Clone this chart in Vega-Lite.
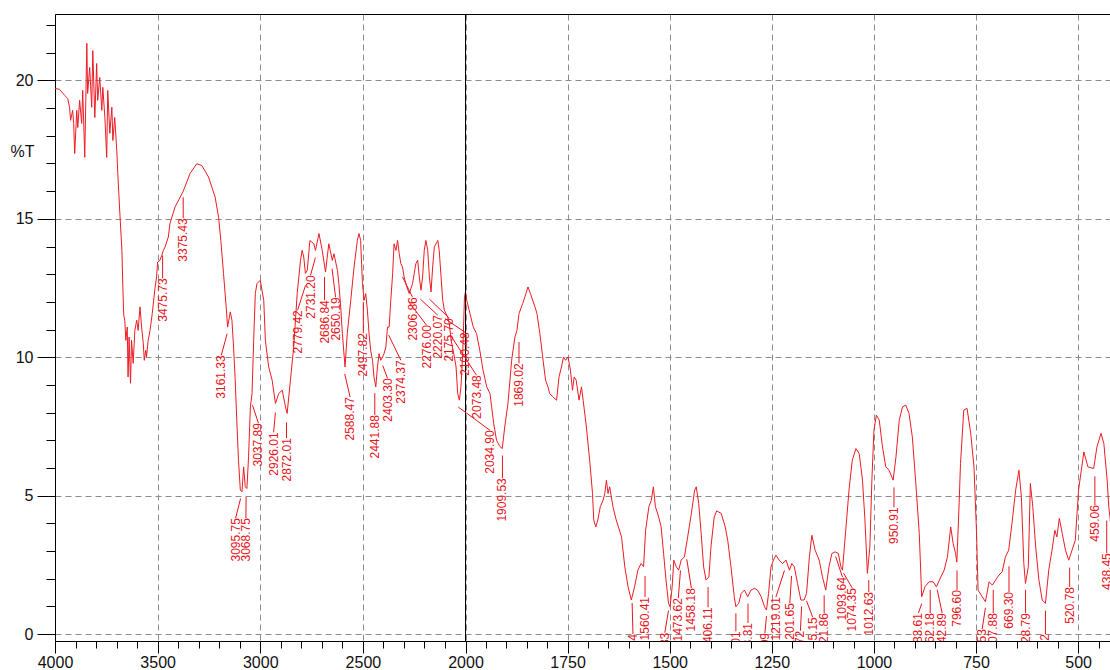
{
  "$schema": "https://vega.github.io/schema/vega-lite/v6.json",
  "width": 1055,
  "height": 627,
  "autosize": "none",
  "padding": {"left": 55, "top": 14, "right": 0, "bottom": 29},
  "background": "white",
  "config": {"view": {"stroke": null}, "font": "Liberation Sans"},
  "datasets": {
    "spec": [
      {"wn":4000,"t":19.71},{"wn":3978,"t":19.68},{"wn":3953,"t":19.46},{"wn":3938,"t":19.35},{"wn":3929,"t":19.03},{"wn":3924,"t":18.56},{"wn":3914,"t":18.92},{"wn":3909,"t":18.45},{"wn":3904,"t":17.36},{"wn":3894,"t":18.92},{"wn":3889,"t":18.30},{"wn":3880,"t":19.28},{"wn":3870,"t":18.45},{"wn":3865,"t":19.64},{"wn":3855,"t":17.22},{"wn":3845,"t":21.34},{"wn":3841,"t":19.53},{"wn":3831,"t":20.47},{"wn":3821,"t":19.03},{"wn":3816,"t":21.08},{"wn":3806,"t":18.66},{"wn":3797,"t":20.61},{"wn":3792,"t":19.28},{"wn":3782,"t":20.11},{"wn":3772,"t":18.92},{"wn":3767,"t":19.75},{"wn":3757,"t":18.66},{"wn":3748,"t":17.22},{"wn":3743,"t":19.64},{"wn":3733,"t":18.09},{"wn":3723,"t":19.03},{"wn":3718,"t":17.83},{"wn":3709,"t":18.66},{"wn":3699,"t":17.47},{"wn":3694,"t":16.64},{"wn":3684,"t":15.20},{"wn":3674,"t":13.86},{"wn":3669,"t":12.42},{"wn":3665,"t":11.52},{"wn":3660,"t":11.34},{"wn":3655,"t":10.61},{"wn":3648,"t":11.09},{"wn":3644,"t":9.29},{"wn":3639,"t":10.73},{"wn":3632,"t":9.06},{"wn":3627,"t":10.61},{"wn":3619,"t":9.78},{"wn":3611,"t":10.97},{"wn":3602,"t":11.34},{"wn":3595,"t":10.97},{"wn":3586,"t":11.82},{"wn":3578,"t":11.09},{"wn":3570,"t":10.51},{"wn":3565,"t":9.89},{"wn":3558,"t":10.25},{"wn":3554,"t":10.01},{"wn":3546,"t":10.61},{"wn":3537,"t":10.97},{"wn":3526,"t":11.59},{"wn":3513,"t":12.49},{"wn":3505,"t":12.90},{"wn":3500,"t":13.44},{"wn":3489,"t":13.50},{"wn":3480,"t":13.68},{"wn":3472,"t":13.86},{"wn":3464,"t":13.98},{"wn":3448,"t":14.34},{"wn":3440,"t":14.83},{"wn":3415,"t":15.43},{"wn":3375,"t":16.00},{"wn":3342,"t":16.64},{"wn":3309,"t":16.99},{"wn":3285,"t":16.93},{"wn":3252,"t":16.51},{"wn":3220,"t":15.79},{"wn":3203,"t":15.06},{"wn":3192,"t":14.22},{"wn":3179,"t":13.03},{"wn":3166,"t":11.82},{"wn":3159,"t":11.09},{"wn":3146,"t":11.64},{"wn":3138,"t":11.34},{"wn":3130,"t":10.37},{"wn":3122,"t":9.17},{"wn":3113,"t":7.48},{"wn":3106,"t":6.28},{"wn":3097,"t":5.20},{"wn":3089,"t":5.14},{"wn":3081,"t":6.04},{"wn":3073,"t":5.32},{"wn":3065,"t":5.26},{"wn":3057,"t":6.40},{"wn":3048,"t":8.21},{"wn":3040,"t":8.69},{"wn":3032,"t":10.61},{"wn":3024,"t":12.30},{"wn":3016,"t":12.66},{"wn":3000,"t":12.78},{"wn":2983,"t":12.06},{"wn":2975,"t":10.61},{"wn":2959,"t":9.65},{"wn":2942,"t":9.17},{"wn":2926,"t":8.33},{"wn":2910,"t":8.69},{"wn":2893,"t":8.81},{"wn":2877,"t":8.21},{"wn":2869,"t":7.97},{"wn":2853,"t":9.17},{"wn":2837,"t":10.37},{"wn":2820,"t":12.30},{"wn":2804,"t":13.50},{"wn":2796,"t":13.86},{"wn":2788,"t":13.62},{"wn":2780,"t":13.03},{"wn":2771,"t":13.14},{"wn":2758,"t":14.22},{"wn":2739,"t":14.10},{"wn":2731,"t":13.86},{"wn":2714,"t":14.47},{"wn":2698,"t":13.86},{"wn":2682,"t":13.08},{"wn":2666,"t":14.10},{"wn":2649,"t":13.50},{"wn":2641,"t":13.74},{"wn":2624,"t":13.14},{"wn":2617,"t":12.66},{"wn":2608,"t":11.82},{"wn":2600,"t":10.86},{"wn":2587,"t":9.65},{"wn":2576,"t":10.86},{"wn":2559,"t":12.06},{"wn":2543,"t":13.26},{"wn":2527,"t":14.22},{"wn":2519,"t":14.47},{"wn":2511,"t":14.22},{"wn":2502,"t":12.66},{"wn":2494,"t":12.06},{"wn":2486,"t":12.30},{"wn":2478,"t":11.70},{"wn":2470,"t":10.86},{"wn":2462,"t":10.25},{"wn":2453,"t":9.89},{"wn":2446,"t":9.29},{"wn":2437,"t":8.93},{"wn":2429,"t":9.65},{"wn":2421,"t":10.13},{"wn":2413,"t":9.89},{"wn":2404,"t":10.01},{"wn":2397,"t":10.13},{"wn":2388,"t":10.37},{"wn":2380,"t":11.09},{"wn":2372,"t":11.09},{"wn":2364,"t":12.06},{"wn":2355,"t":13.02},{"wn":2348,"t":14.10},{"wn":2339,"t":13.86},{"wn":2331,"t":14.22},{"wn":2323,"t":13.74},{"wn":2315,"t":13.38},{"wn":2307,"t":13.26},{"wn":2299,"t":12.90},{"wn":2286,"t":12.54},{"wn":2274,"t":12.30},{"wn":2258,"t":12.66},{"wn":2242,"t":13.38},{"wn":2233,"t":13.50},{"wn":2225,"t":12.90},{"wn":2217,"t":12.42},{"wn":2209,"t":12.90},{"wn":2201,"t":13.86},{"wn":2193,"t":14.22},{"wn":2184,"t":13.86},{"wn":2176,"t":12.90},{"wn":2168,"t":12.36},{"wn":2160,"t":13.26},{"wn":2152,"t":13.98},{"wn":2135,"t":14.22},{"wn":2128,"t":13.86},{"wn":2119,"t":12.90},{"wn":2111,"t":12.06},{"wn":2103,"t":11.70},{"wn":2087,"t":11.45},{"wn":2079,"t":11.22},{"wn":2070,"t":10.61},{"wn":2054,"t":10.01},{"wn":2046,"t":9.65},{"wn":2038,"t":8.69},{"wn":2030,"t":8.45},{"wn":2022,"t":8.93},{"wn":2013,"t":10.25},{"wn":2005,"t":12.18},{"wn":2000,"t":12.36},{"wn":1997,"t":12.06},{"wn":1989,"t":11.58},{"wn":1981,"t":11.09},{"wn":1973,"t":10.86},{"wn":1965,"t":10.25},{"wn":1957,"t":9.53},{"wn":1948,"t":8.93},{"wn":1940,"t":8.69},{"wn":1936,"t":8.21},{"wn":1931,"t":7.61},{"wn":1924,"t":7.00},{"wn":1916,"t":6.78},{"wn":1910,"t":6.70},{"wn":1904,"t":7.48},{"wn":1896,"t":8.33},{"wn":1887,"t":9.89},{"wn":1879,"t":10.73},{"wn":1874,"t":10.97},{"wn":1869,"t":11.58},{"wn":1860,"t":11.94},{"wn":1852,"t":12.30},{"wn":1847,"t":12.54},{"wn":1841,"t":12.30},{"wn":1830,"t":11.82},{"wn":1825,"t":11.58},{"wn":1818,"t":10.86},{"wn":1810,"t":9.89},{"wn":1804,"t":9.17},{"wn":1798,"t":8.93},{"wn":1794,"t":8.69},{"wn":1786,"t":8.57},{"wn":1777,"t":8.45},{"wn":1771,"t":9.29},{"wn":1765,"t":9.65},{"wn":1760,"t":10.01},{"wn":1755,"t":9.89},{"wn":1749,"t":10.01},{"wn":1743,"t":9.53},{"wn":1738,"t":8.81},{"wn":1734,"t":9.29},{"wn":1729,"t":9.17},{"wn":1722,"t":8.45},{"wn":1716,"t":8.93},{"wn":1712,"t":8.45},{"wn":1704,"t":7.48},{"wn":1696,"t":6.28},{"wn":1689,"t":5.08},{"wn":1686,"t":4.12},{"wn":1681,"t":3.87},{"wn":1676,"t":4.12},{"wn":1670,"t":4.60},{"wn":1663,"t":4.84},{"wn":1659,"t":5.08},{"wn":1655,"t":5.56},{"wn":1651,"t":5.08},{"wn":1647,"t":5.32},{"wn":1639,"t":4.60},{"wn":1631,"t":4.12},{"wn":1618,"t":3.51},{"wn":1610,"t":2.43},{"wn":1602,"t":1.71},{"wn":1594,"t":1.23},{"wn":1586,"t":1.71},{"wn":1578,"t":2.31},{"wn":1570,"t":2.55},{"wn":1564,"t":2.43},{"wn":1559,"t":3.75},{"wn":1551,"t":4.60},{"wn":1545,"t":4.84},{"wn":1540,"t":5.32},{"wn":1535,"t":4.60},{"wn":1527,"t":4.23},{"wn":1521,"t":3.87},{"wn":1515,"t":2.91},{"wn":1509,"t":1.95},{"wn":1503,"t":1.11},{"wn":1499,"t":0.99},{"wn":1494,"t":1.71},{"wn":1490,"t":2.67},{"wn":1484,"t":2.43},{"wn":1478,"t":2.31},{"wn":1472,"t":2.67},{"wn":1464,"t":2.79},{"wn":1456,"t":3.51},{"wn":1447,"t":4.36},{"wn":1439,"t":5.20},{"wn":1435,"t":5.32},{"wn":1429,"t":4.72},{"wn":1423,"t":3.64},{"wn":1417,"t":2.43},{"wn":1411,"t":1.95},{"wn":1404,"t":2.07},{"wn":1399,"t":3.15},{"wn":1391,"t":4.23},{"wn":1385,"t":4.45},{"wn":1374,"t":4.36},{"wn":1364,"t":3.87},{"wn":1358,"t":3.39},{"wn":1350,"t":2.43},{"wn":1342,"t":1.35},{"wn":1338,"t":0.99},{"wn":1331,"t":1.11},{"wn":1325,"t":1.47},{"wn":1317,"t":1.59},{"wn":1309,"t":1.35},{"wn":1301,"t":1.59},{"wn":1293,"t":1.65},{"wn":1285,"t":1.59},{"wn":1276,"t":1.35},{"wn":1268,"t":0.99},{"wn":1263,"t":0.87},{"wn":1258,"t":1.47},{"wn":1252,"t":2.43},{"wn":1246,"t":2.67},{"wn":1240,"t":2.85},{"wn":1232,"t":2.67},{"wn":1224,"t":2.55},{"wn":1215,"t":2.67},{"wn":1207,"t":2.31},{"wn":1201,"t":2.55},{"wn":1195,"t":2.43},{"wn":1187,"t":1.83},{"wn":1179,"t":1.23},{"wn":1171,"t":1.23},{"wn":1165,"t":1.47},{"wn":1158,"t":2.79},{"wn":1152,"t":3.57},{"wn":1144,"t":3.03},{"wn":1134,"t":2.67},{"wn":1126,"t":2.07},{"wn":1118,"t":1.59},{"wn":1110,"t":2.43},{"wn":1103,"t":2.91},{"wn":1095,"t":2.97},{"wn":1087,"t":2.91},{"wn":1081,"t":2.43},{"wn":1077,"t":2.31},{"wn":1069,"t":3.75},{"wn":1061,"t":5.20},{"wn":1053,"t":6.28},{"wn":1044,"t":6.70},{"wn":1036,"t":6.52},{"wn":1028,"t":5.56},{"wn":1022,"t":4.12},{"wn":1016,"t":2.19},{"wn":1010,"t":3.15},{"wn":1005,"t":5.56},{"wn":1000,"t":7.36},{"wn":994,"t":7.91},{"wn":987,"t":7.73},{"wn":979,"t":6.76},{"wn":971,"t":6.04},{"wn":963,"t":5.92},{"wn":953,"t":5.56},{"wn":946,"t":6.40},{"wn":938,"t":7.73},{"wn":930,"t":8.21},{"wn":922,"t":8.27},{"wn":914,"t":7.97},{"wn":906,"t":7.12},{"wn":898,"t":5.56},{"wn":889,"t":3.64},{"wn":883,"t":1.35},{"wn":875,"t":1.71},{"wn":865,"t":1.89},{"wn":855,"t":1.89},{"wn":847,"t":1.71},{"wn":836,"t":2.07},{"wn":828,"t":2.31},{"wn":820,"t":2.79},{"wn":812,"t":3.87},{"wn":806,"t":3.27},{"wn":800,"t":2.90},{"wn":797,"t":2.60},{"wn":792,"t":4.48},{"wn":788,"t":6.16},{"wn":780,"t":8.09},{"wn":772,"t":8.15},{"wn":763,"t":7.25},{"wn":755,"t":6.04},{"wn":749,"t":3.75},{"wn":745,"t":1.59},{"wn":735,"t":1.35},{"wn":727,"t":1.17},{"wn":718,"t":1.89},{"wn":710,"t":1.77},{"wn":702,"t":1.95},{"wn":694,"t":2.13},{"wn":686,"t":2.25},{"wn":678,"t":2.79},{"wn":670,"t":3.03},{"wn":662,"t":4.00},{"wn":653,"t":5.20},{"wn":645,"t":5.92},{"wn":639,"t":4.96},{"wn":633,"t":2.55},{"wn":629,"t":1.83},{"wn":622,"t":2.43},{"wn":617,"t":5.44},{"wn":611,"t":4.60},{"wn":604,"t":3.15},{"wn":596,"t":1.95},{"wn":588,"t":1.23},{"wn":580,"t":1.11},{"wn":572,"t":2.31},{"wn":564,"t":3.03},{"wn":557,"t":3.75},{"wn":552,"t":3.51},{"wn":546,"t":4.18},{"wn":539,"t":3.64},{"wn":531,"t":3.03},{"wn":523,"t":2.67},{"wn":515,"t":3.03},{"wn":507,"t":3.39},{"wn":499,"t":5.20},{"wn":486,"t":6.58},{"wn":476,"t":6.04},{"wn":462,"t":5.98},{"wn":454,"t":6.76},{"wn":444,"t":7.25},{"wn":437,"t":6.88},{"wn":429,"t":5.56},{"wn":425,"t":4.60},{"wn":419,"t":3.80}
    ],
    "peaks": [
      {"label":"3475.73","wn":3475.73,"t1":13.68,"lx":3475.73,"ly":12.85},
      {"label":"3375.43","wn":3375.43,"t1":15.78,"lx":3375.43,"ly":15.02},
      {"label":"3161.33","wn":3161.33,"t1":10.85,"lx":3190,"ly":10.07},
      {"label":"3095.75","wn":3095.75,"t1":4.9,"lx":3120,"ly":4.19},
      {"label":"3068.75","wn":3068.75,"t1":4.95,"lx":3070,"ly":4.19},
      {"label":"3037.89","wn":3037.89,"t1":8.27,"lx":3009,"ly":7.62},
      {"label":"2926.01","wn":2926.01,"t1":8.0,"lx":2935,"ly":7.29},
      {"label":"2872.01","wn":2872.01,"t1":7.65,"lx":2872.01,"ly":7.08},
      {"label":"2779.42","wn":2779.42,"t1":12.6,"lx":2818,"ly":11.7},
      {"label":"2731.20","wn":2731.2,"t1":13.6,"lx":2755,"ly":12.96},
      {"label":"2686.84","wn":2686.84,"t1":12.9,"lx":2686.84,"ly":12.06},
      {"label":"2650.19","wn":2650.19,"t1":13.2,"lx":2633,"ly":12.17},
      {"label":"2588.47","wn":2588.47,"t1":9.4,"lx":2562,"ly":8.56},
      {"label":"2497.82","wn":2497.82,"t1":12.0,"lx":2497.82,"ly":10.87},
      {"label":"2441.88","wn":2441.88,"t1":8.7,"lx":2441.88,"ly":7.91},
      {"label":"2403.30","wn":2403.3,"t1":9.7,"lx":2380,"ly":9.24},
      {"label":"2374.37","wn":2374.37,"t1":10.8,"lx":2315,"ly":9.89},
      {"label":"2306.86","wn":2306.86,"t1":12.9,"lx":2258,"ly":12.17},
      {"label":"2276.00","wn":2276.0,"t1":12.0,"lx":2190,"ly":11.16},
      {"label":"2220.07","wn":2220.07,"t1":12.1,"lx":2135,"ly":11.52},
      {"label":"2175.70","wn":2175.7,"t1":12.1,"lx":2079,"ly":11.41},
      {"label":"2100.48","wn":2100.48,"t1":11.4,"lx":2002,"ly":10.9},
      {"label":"2073.48","wn":2073.48,"t1":10.8,"lx":1973,"ly":9.35},
      {"label":"2034.90","wn":2034.9,"t1":8.2,"lx":1940,"ly":7.36},
      {"label":"1909.53","wn":1909.53,"t1":6.45,"lx":1909.53,"ly":5.63},
      {"label":"1869.02","wn":1869.02,"t1":10.55,"lx":1869.02,"ly":9.78},
      {"label":"1592.34","wn":1592,"t1":1.12,"lx":1590,"ly":0.0},
      {"label":"1560.41","wn":1560.41,"t1":2.1,"lx":1560.41,"ly":1.34},
      {"label":"1502.83","wn":1503,"t1":0.85,"lx":1512,"ly":0.05},
      {"label":"1473.62","wn":1473.62,"t1":2.3,"lx":1479,"ly":1.3},
      {"label":"1458.18","wn":1458.18,"t1":2.7,"lx":1447,"ly":1.66},
      {"label":"1406.11","wn":1406.11,"t1":1.7,"lx":1406.11,"ly":0.97},
      {"label":"1338.01","wn":1338,"t1":0.75,"lx":1338,"ly":0.1},
      {"label":"1308.31","wn":1308.31,"t1":1.1,"lx":1308.31,"ly":0.4},
      {"label":"1263.09","wn":1263,"t1":0.65,"lx":1267,"ly":0.04},
      {"label":"1219.01","wn":1219.01,"t1":2.3,"lx":1240,"ly":1.34},
      {"label":"1201.65","wn":1201.65,"t1":2.1,"lx":1206,"ly":1.12},
      {"label":"1176.72","wn":1177,"t1":1.0,"lx":1180,"ly":0.12},
      {"label":"1165.15","wn":1165,"t1":1.2,"lx":1150,"ly":0.61},
      {"label":"1121.86","wn":1121.86,"t1":1.4,"lx":1121.86,"ly":0.76},
      {"label":"1093.64","wn":1093.64,"t1":2.8,"lx":1077,"ly":2.06},
      {"label":"1074.35","wn":1074.35,"t1":2.2,"lx":1053,"ly":1.66},
      {"label":"1012.63","wn":1012.63,"t1":1.95,"lx":1012.63,"ly":1.52},
      {"label":"950.91","wn":950.91,"t1":5.3,"lx":950.91,"ly":4.58},
      {"label":"883.61","wn":883,"t1":1.1,"lx":891,"ly":0.76},
      {"label":"862.18","wn":862.18,"t1":1.6,"lx":862.18,"ly":0.76},
      {"label":"842.89","wn":845,"t1":1.6,"lx":833,"ly":0.76},
      {"label":"796.60","wn":796.6,"t1":2.3,"lx":796.6,"ly":1.59},
      {"label":"727.53","wn":727,"t1":0.95,"lx":735,"ly":0.18},
      {"label":"707.88","wn":707.88,"t1":1.6,"lx":707.88,"ly":0.76},
      {"label":"669.30","wn":669.3,"t1":2.45,"lx":669.3,"ly":1.52},
      {"label":"628.79","wn":628.79,"t1":1.6,"lx":628.79,"ly":0.76},
      {"label":"580.72","wn":580,"t1":0.85,"lx":580,"ly":0.0},
      {"label":"520.78","wn":520.78,"t1":2.4,"lx":520.78,"ly":1.7},
      {"label":"459.06","wn":459.06,"t1":5.7,"lx":459.06,"ly":4.66},
      {"label":"438.45","wn":430,"t1":4.1,"lx":430,"ly":2.92}
    ],
    "divider": [{"wn": 2000}]
  },
  "layer": [
    {
      "data": {"name": "spec"},
      "mark": {"type": "line", "color": "#ec1c24", "strokeWidth": 1, "clip": true},
      "encoding": {
        "x": {"field": "wn", "type": "quantitative", "sort": null,
          "scale": {"domain": [4000, 2000, 422], "range": [0, 410.5, 1055], "nice": false, "zero": false},
          "axis": {"orient": "bottom", "title": null, "values": [4000,3500,3000,2500,2000,1750,1500,1250,1000,750,500], "format": "d",
            "grid": true, "gridColor": "#8c8c8c", "gridDash": [6,4], "gridWidth": 1,
            "domain": true, "domainColor": "#000", "domainWidth": 1, "tickColor": "#000", "tickSize": 12, "tickWidth": 1,
            "labelFontSize": 16, "labelFont": "Liberation Sans", "labelColor": "#111", "labelPadding": 1, "labelFlush": false, "labelOverlap": false}},
        "y": {"field": "t", "type": "quantitative",
          "scale": {"domain": [-0.25, 22.4], "nice": false, "zero": false},
          "axis": {"orient": "left", "values": [0,5,10,15,20], "title": "%T", "titleAngle": 0, "titleX": -45, "titleY": 137, "titleAlign": "left", "titleBaseline": "middle",
            "titleFontSize": 16, "titleFontWeight": "normal", "titleFont": "Liberation Sans", "titleColor": "#111",
            "grid": true, "gridColor": "#8c8c8c", "gridDash": [6,4], "gridWidth": 1,
            "domain": true, "domainColor": "#000", "domainWidth": 1, "tickColor": "#000", "tickSize": 18, "tickWidth": 1,
            "labelFontSize": 16, "labelFont": "Liberation Sans", "labelColor": "#111", "labelPadding": 4, "labelFlush": false, "labelOverlap": false}}
      }
    },
    {
      "data": {"name": "spec"},
      "mark": {"type": "point", "opacity": 0},
      "encoding": {
        "x": {"field": "wn", "type": "quantitative",
          "scale": {"domain": [4000, 2000, 422], "range": [0, 410.5, 1055], "nice": false, "zero": false},
          "axis": {"orient": "bottom", "title": null, "values": [3900,3800,3700,3600,3400,3300,3200,3100,2900,2800,2700,2600,2400,2300,2200,2100,1950,1900,1850,1800,1700,1650,1600,1550,1450,1400,1350,1300,1200,1150,1100,1050,950,900,850,800,700,650,600,550,450],
            "labels": false, "grid": false, "domain": false, "tickColor": "#000", "tickSize": 7, "tickWidth": 1}},
        "y": {"field": "t", "type": "quantitative",
          "scale": {"domain": [-0.25, 22.4], "nice": false, "zero": false},
          "axis": {"orient": "left", "title": null, "values": [1,2,3,4,6,7,8,9,11,12,13,14,16,17,18,19,21,22],
            "labels": false, "grid": false, "domain": false, "tickColor": "#000", "tickSize": 9, "tickWidth": 1}}
      }
    },
    {
      "data": {"name": "divider"},
      "mark": {"type": "rule", "color": "#000", "strokeWidth": 1},
      "encoding": {
        "x": {"field": "wn", "type": "quantitative",
          "scale": {"domain": [4000, 2000, 422], "range": [0, 410.5, 1055], "nice": false, "zero": false},
          "axis": {"orient": "top", "title": null, "labels": false, "ticks": false, "grid": false, "domain": true, "domainColor": "#000", "domainWidth": 1}}
      }
    },
    {
      "data": {"name": "peaks"},
      "mark": {"type": "rule", "color": "#e8141c", "strokeWidth": 1, "clip": true},
      "encoding": {
        "x": {"field": "wn", "type": "quantitative", "axis": null,
          "scale": {"domain": [4000, 2000, 422], "range": [0, 410.5, 1055], "nice": false, "zero": false}},
        "y": {"field": "t1", "type": "quantitative", "axis": null,
          "scale": {"domain": [-0.25, 22.4], "nice": false, "zero": false}},
        "x2": {"field": "lx"},
        "y2": {"field": "ly"}
      }
    },
    {
      "data": {"name": "peaks"},
      "mark": {"type": "text", "color": "#e8141c", "fontSize": 12, "font": "Liberation Sans", "angle": 270, "align": "right", "baseline": "middle", "clip": true},
      "encoding": {
        "x": {"field": "lx", "type": "quantitative", "axis": null,
          "scale": {"domain": [4000, 2000, 422], "range": [0, 410.5, 1055], "nice": false, "zero": false}},
        "y": {"field": "ly", "type": "quantitative", "axis": null,
          "scale": {"domain": [-0.25, 22.4], "nice": false, "zero": false}},
        "text": {"field": "label"}
      }
    }
  ],
  "resolve": {"axis": {"x": "independent", "y": "independent"}}
}
